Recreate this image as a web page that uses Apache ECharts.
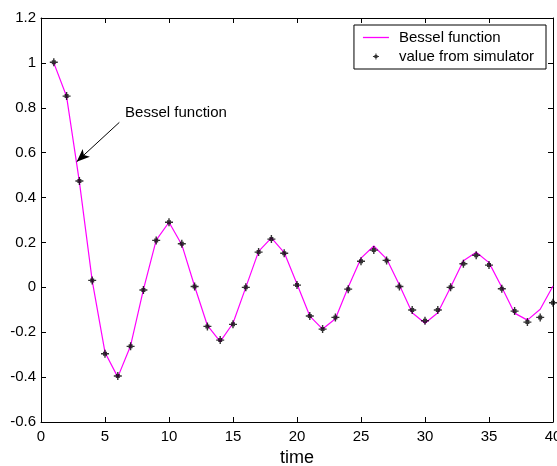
<!DOCTYPE html>
<html>
<head>
<meta charset="utf-8">
<script src="https://cdn.jsdelivr.net/npm/echarts@6/dist/echarts.min.js"></script>
<style>html,body{margin:0;padding:0;background:#fff}#c{width:557px;height:466px}</style>
</head>
<body>
<div id="c"></div>
<script>
// ---- data ----
const times = [1,2,3,4,5,6,7,8,9,10,11,12,13,14,15,16,17,18,19,20,21,22,23,24,25,26,27,28,29,30,31,32,33,34,35,36,37,38,39,40];
const besselValues = [1.0,0.85,0.47,0.03,-0.29,-0.40,-0.26,-0.01,0.21,0.29,0.19,0.005,-0.17,-0.242,-0.16,0.0,0.16,0.22,0.155,0.015,-0.128,-0.186,-0.14,0.0,0.13,0.184,0.127,0.01,-0.113,-0.16,-0.113,0.0,0.118,0.156,0.11,0.0,-0.115,-0.146,-0.098,0.006];
const simulatorValues = [1.003,0.852,0.474,0.031,-0.296,-0.395,-0.263,-0.012,0.209,0.29,0.194,0.004,-0.174,-0.235,-0.165,0.0,0.157,0.215,0.152,0.01,-0.128,-0.186,-0.134,-0.008,0.116,0.166,0.12,0.004,-0.101,-0.149,-0.101,0.0,0.105,0.143,0.099,-0.006,-0.106,-0.155,-0.134,-0.069];
const xMin = 0, xMax = 40, xStep = 5;
const yMin = -0.6, yMax = 1.2, yStep = 0.2;
const xName = 'time';
const seriesNames = ['Bessel function', 'value from simulator'];
const annotationText = 'Bessel function';
const annotationTextAt = [6.57, 0.776];
const arrowFrom = [6.12, 0.735];
const arrowTo = [2.79, 0.56];

// ---- chart ----
const FONT = 'Liberation Sans, Arial, sans-serif';
const marker = 'path://M3.3,0H4.7V3.3H8V4.7H4.7V8H3.3V4.7H0V3.3H3.3Z M2,2H6V6H2Z';
const lineIcon = 'path://M0,0H26V1.3H0Z';
const fmt = v => String(parseFloat(Number(v).toFixed(1)));
const axisCommon = {
  axisLine: {show: true, onZero: false, lineStyle: {color: '#000', width: 1}},
  axisTick: {show: true, inside: true, length: 5, lineStyle: {color: '#000'}},
  splitLine: {show: false}
};
const chart = echarts.init(document.getElementById('c'), null, {renderer: 'canvas'});
chart.setOption({
  animation: false,
  backgroundColor: '#fff',
  grid: {left: 41, right: 4, top: 18, bottom: 44, containLabel: false, outerBoundsMode: 'none'},
  legend: {
    orient: 'vertical', right: 11, top: 25,
    itemWidth: 26, itemHeight: 6, itemGap: 4,
    padding: [5, 12, 5, 9],
    borderColor: '#000', borderWidth: 1, backgroundColor: '#fff',
    textStyle: {fontSize: 15, fontFamily: FONT, color: '#000', padding: [0, 0, 0, 5]},
    data: [{name: seriesNames[0], icon: lineIcon, itemStyle: {color: '#ff00ff'}}, {name: seriesNames[1], icon: marker}]
  },
  xAxis: [
    Object.assign({
      type: 'value', min: xMin, max: xMax, interval: xStep, position: 'bottom',
      name: xName, nameLocation: 'middle', nameGap: 23,
      nameTextStyle: {fontSize: 18, fontFamily: FONT, color: '#000'},
      axisLabel: {fontSize: 15, fontFamily: FONT, color: '#000', margin: 7, showMaxLabel: true}
    }, axisCommon),
    Object.assign({
      type: 'value', min: xMin, max: xMax, interval: xStep, position: 'top',
      axisLabel: {show: false}
    }, axisCommon)
  ],
  yAxis: [
    Object.assign({
      type: 'value', min: yMin, max: yMax, interval: yStep, position: 'left',
      axisLabel: {fontSize: 15, fontFamily: FONT, color: '#000', margin: 5, formatter: fmt}
    }, axisCommon),
    Object.assign({
      type: 'value', min: yMin, max: yMax, interval: yStep, position: 'right',
      axisLabel: {show: false}
    }, axisCommon)
  ],
  series: [
    {
      name: seriesNames[0], type: 'line',
      data: times.map((t, i) => [t, besselValues[i]]),
      symbol: 'none', showSymbol: false,
      lineStyle: {color: '#ff00ff', width: 1.2},
      itemStyle: {color: '#ff00ff'},
      z: 2,
      markLine: {
        silent: true, animation: false,
        symbol: ['none', 'arrow'], symbolSize: [8, 13],
        lineStyle: {color: '#000', width: 1, type: 'solid'},
        label: {show: false},
        data: [[{coord: arrowFrom}, {coord: arrowTo}]]
      },
      markPoint: {
        silent: true, animation: false,
        symbol: 'circle', symbolSize: 0,
        label: {show: true, position: 'right', distance: 0, color: '#000', fontSize: 15, fontFamily: FONT, formatter: annotationText},
        data: [{coord: annotationTextAt}]
      }
    },
    {
      name: seriesNames[1], type: 'scatter',
      data: times.map((t, i) => [t, simulatorValues[i]]),
      symbol: marker, symbolSize: 8,
      itemStyle: {color: '#000'},
      z: 3
    }
  ]
});
</script>
</body>
</html>
